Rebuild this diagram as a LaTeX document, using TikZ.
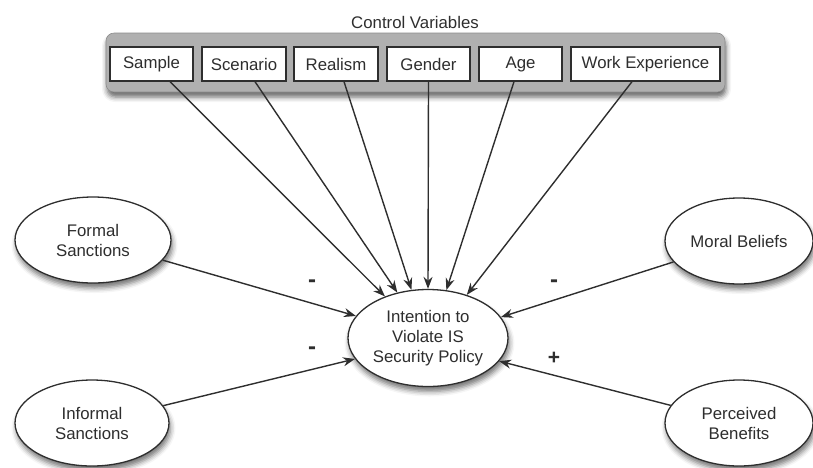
\documentclass[tikz,border=0pt]{standalone}
\usepackage{fontspec}
\setmainfont{Liberation Sans}
\usetikzlibrary{shapes.geometric,shadows.blur,arrows.meta}
\definecolor{ink}{HTML}{2E2E2E}
\definecolor{panel}{HTML}{B0B0B0}
\begin{document}
\begin{tikzpicture}[x=1pt,y=-1pt,
  every node/.style={text=ink,font=\fontsize{16.8}{20}\selectfont},
  varbox/.style={draw=ink,line width=1.3pt,fill=white,minimum height=34pt,inner sep=0pt,anchor=center},
  construct/.style={ellipse,draw=ink,line width=1.3pt,fill=white,inner sep=0pt,align=center,
    blur shadow={shadow xshift=1.5pt,shadow yshift=-5pt,shadow blur radius=5pt,shadow opacity=55}},
  link/.style={draw=ink,line width=1.4pt,-{Stealth[length=12pt,width=9pt]}},
  sign/.style={font=\fontsize{24}{24}\selectfont\bfseries}]
\useasboundingbox (0,0) rectangle (813,467);

% control variable panel
\node[draw=ink!55,line width=0.6pt,fill=panel,rounded corners=8pt,minimum width=619pt,minimum height=59pt,inner sep=0pt,
  blur shadow={shadow xshift=1pt,shadow yshift=-5pt,shadow blur radius=5pt,shadow opacity=60}] (panel) at (415.5,62.5) {};
\node (title) at (415,22) {Control Variables};

\node[varbox,minimum width=83pt] (sample) at (151.5,64) {Sample};
\node[varbox,minimum width=84pt] (scenario) at (244,64) {Scenario};
\node[varbox,minimum width=84pt] (realism) at (336,64) {Realism};
\node[varbox,minimum width=83pt] (gender) at (428.5,64) {Gender};
\node[varbox,minimum width=83pt] (age) at (520.5,64) {Age};
\node[varbox,minimum width=149pt] (work) at (645.5,64) {Work Experience};

% constructs
\node[construct,minimum width=160pt,minimum height=97pt] (iv) at (428,338) {Intention to\\Violate IS\\Security Policy};
\node[construct,minimum width=156pt,minimum height=86pt] (formal) at (93,240) {Formal\\Sanctions};
\node[construct,minimum width=154pt,minimum height=86pt] (informal) at (92,423) {Informal\\Sanctions};
\node[construct,minimum width=148pt,minimum height=86pt] (moral) at (739,241) {Moral Beliefs};
\node[construct,minimum width=148pt,minimum height=86pt] (benefits) at (739,423) {Perceived\\Benefits};

% paths from the control variables
\draw[link] ([xshift=18.5pt]sample.south) -- (iv.136);
\draw[link] ([xshift=11pt]scenario.south) -- (iv.124);
\draw[link] ([xshift=8pt]realism.south) -- (iv.109);
\draw[link] (gender.south) -- (iv.90);
\draw[link] ([xshift=-6.5pt]age.south) -- (iv.69);
\draw[link] ([xshift=-13.5pt]work.south) -- (iv.48);

% hypothesised paths
\draw[link] (formal) -- (iv.163);
\draw[link] (informal) -- (iv.196);
\draw[link] (moral) -- (iv.16);
\draw[link] (benefits) -- (iv.-18);

\node[sign] (s1) at (312,284) {-};
\node[sign] (s2) at (312,351) {-};
\node[sign] (s3) at (554,284) {-};
\node[sign,font=\fontsize{21}{22}\selectfont\bfseries] (s4) at (554,358) {+};
\end{tikzpicture}
\end{document}
